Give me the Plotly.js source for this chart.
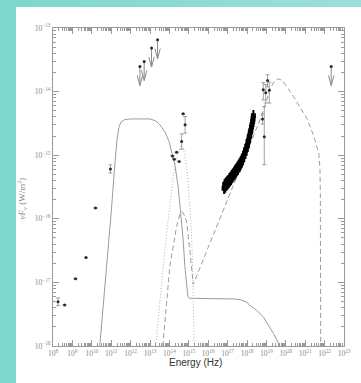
<!DOCTYPE html>
<html><head><meta charset="utf-8">
<script src="https://cdn.plot.ly/plotly-3.0.1.min.js"></script>
<style>
html,body{margin:0;padding:0;width:361px;height:383px;overflow:hidden;background:linear-gradient(to right,#7cd7cd,#9ddfd8);}
#panel{position:absolute;left:16px;top:7px;width:345px;height:376px;background:#fff;}
#chart{position:absolute;left:0;top:0;width:361px;height:383px;}
</style></head><body><div id="panel"></div><div id="chart"></div>
<script>
// ---- data (log10 of frequency in Hz, log10 of nuF_nu in W/m^2) ----
const radioLogNu = [8.26, 8.60, 9.16, 9.70, 10.19, 10.96];
const radioLogF  = [-17.305, -17.355, -16.943, -16.61, -15.83, -15.216];
const radioErr   = [0.06, 0, 0, 0, 0, 0.066];

const ulLogNu = [12.48, 12.70, 13.08, 13.39, 22.34];
const ulLogF  = [-13.605, -13.526, -13.315, -13.184, -13.605];

const optLogNu = [14.16, 14.25, 14.37, 14.50, 14.63, 14.71, 14.81];
const optLogF  = [-15.011, -15.063, -14.953, -15.10, -14.786, -14.35, -14.52];
const optErrHi = [0, 0, 0, 0, 0.121, 0, 0.128];
const optErrLo = [0, 0, 0, 0, 0.120, 0, 0.134];

const xrayLogNu = [16.82,16.85,16.88,16.91,16.94,16.97,17.00,17.03,17.06,17.09,17.12,17.15,17.18,17.21,17.24,17.27,17.30,17.33,17.36,17.39,17.42,17.45,17.48,17.51,17.54,17.57,17.60,17.63,17.66,17.69,17.72,17.75,17.78,17.81,17.84,17.87,17.90,17.93,17.96,17.99,18.02,18.05,18.08,18.11,18.14,18.17,18.20,18.23,18.26,18.29,18.31,18.33];
const xrayLogF  = [-15.52,-15.46,-15.50,-15.44,-15.47,-15.42,-15.45,-15.40,-15.43,-15.37,-15.40,-15.35,-15.38,-15.32,-15.35,-15.30,-15.32,-15.27,-15.30,-15.24,-15.27,-15.22,-15.24,-15.19,-15.22,-15.16,-15.18,-15.13,-15.15,-15.10,-15.11,-15.06,-15.07,-15.02,-15.02,-14.97,-14.97,-14.92,-14.91,-14.86,-14.85,-14.79,-14.77,-14.72,-14.69,-14.64,-14.61,-14.56,-14.52,-14.47,-14.43,-14.38];
const xrayErr = 0.09;

const gamLogNu = [18.80, 18.84, 18.89, 18.965, 19.06, 19.15];
const gamLogF  = [-14.43, -13.97, -14.71, -14.02, -13.825, -13.98];
const gamErrHi = [0.08, 0.11, 0.475, 0.13, 0.09, 0.13];
const gamErrLo = [0.08, 0.16, 0.44, 0.16, 0.10, 0.20];

// model curves
const syncLogNu = [10.41,10.7,11.0,11.2,11.3,11.4,11.5,11.7,12.0,12.5,13.0,13.3,13.5,13.77,14.0,14.13,14.28,14.45,14.58,14.7,14.8,14.89,14.95,15.02,15.5,16.0,16.5,17.0,17.3,17.64,17.98,18.15,18.5,18.84,19.1,19.36,19.55,19.67];
const syncLogF  = [-18,-17.0,-15.9,-15.1,-14.75,-14.56,-14.48,-14.44,-14.43,-14.43,-14.43,-14.46,-14.52,-14.63,-14.80,-14.97,-15.15,-15.49,-15.86,-16.3,-16.75,-17.12,-17.22,-17.25,-17.25,-17.25,-17.25,-17.25,-17.26,-17.27,-17.31,-17.36,-17.44,-17.54,-17.66,-17.80,-17.91,-18.0];

const diskLogNu = [13.30,13.5,13.68,13.85,14.02,14.2,14.35,14.45,14.55,14.63,14.72,14.8,14.89,14.97,15.05,15.14,15.2,15.25,15.28];
const diskLogF  = [-18,-17.3,-16.75,-16.25,-15.81,-15.34,-15.08,-14.97,-14.88,-14.84,-14.88,-15.0,-15.18,-15.45,-15.8,-16.22,-16.8,-17.4,-18];

const icLogNu = [13.66,14.02,14.37,14.55,14.63,14.72,14.80,14.89,15.06,15.23,16.0,17.0,18.0,18.7,19.0,19.2,19.4,19.6,19.8,20.05,20.4,20.74,21.08,21.42,21.6,21.7,21.76,21.78,21.8];
const icLogF  = [-18,-16.75,-16.12,-15.92,-15.89,-15.91,-15.97,-16.05,-16.52,-17.03,-16.45,-15.70,-14.95,-14.42,-14.15,-13.95,-13.84,-13.80,-13.82,-13.92,-14.08,-14.25,-14.42,-14.68,-14.85,-14.97,-15.2,-15.6,-18];

const xTickExp = [8,9,10,11,12,13,14,15,16,17,18,19,20,21,22,23];
const yTickExp = [-18,-17,-16,-15,-14,-13];

// ---- helpers ----
const P = v => Math.pow(10, v);
const lin = a => a.map(P);
const errPlus = (y, e) => y.map((v, i) => P(v + (Array.isArray(e) ? e[i] : e)) - P(v));
const errMinus = (y, e) => y.map((v, i) => P(v) - P(v - (Array.isArray(e) ? e[i] : e)));

const lineCol = '#9c9c9c';
const ptCol = '#2a2a2a';
const ebCol = '#8a8a8a';

function eb(y, hi, lo, w) {
  return {type: 'data', symmetric: false, array: errPlus(y, hi), arrayminus: errMinus(y, lo),
          color: ebCol, thickness: 0.8, width: w};
}

const traces = [];
traces.push({x: lin(syncLogNu), y: lin(syncLogF), mode: 'lines', line: {color: lineCol, width: 1}, hoverinfo: 'skip'});
traces.push({x: lin(diskLogNu), y: lin(diskLogF), mode: 'lines', line: {color: '#b4b4b4', width: 1, dash: '1px,2px'}, hoverinfo: 'skip'});
traces.push({x: lin(icLogNu), y: lin(icLogF), mode: 'lines', line: {color: lineCol, width: 1, dash: '5px,3px'}, hoverinfo: 'skip'});

traces.push({x: lin(radioLogNu), y: lin(radioLogF), mode: 'markers',
  marker: {size: 3, color: ptCol}, error_y: eb(radioLogF, radioErr, radioErr, 2)});
traces.push({x: lin(optLogNu), y: lin(optLogF), mode: 'markers',
  marker: {size: 3, color: ptCol}, error_y: eb(optLogF, optErrHi, optErrLo, 2)});
traces.push({x: lin(xrayLogNu), y: lin(xrayLogF), mode: 'markers',
  marker: {size: 5, color: '#000', symbol: 'square'},
  error_y: {type: 'data', symmetric: false, array: errPlus(xrayLogF, xrayErr), arrayminus: errMinus(xrayLogF, xrayErr), color: '#000', thickness: 2, width: 0}});
traces.push({x: lin(gamLogNu), y: lin(gamLogF), mode: 'markers',
  marker: {size: 3, color: ptCol}, error_y: eb(gamLogF, gamErrHi, gamErrLo, 2)});

// upper limits: dot + shaft + V head
const shaft = 0.30, headDy = 0.16, headDx = 0.14;
const ulx = [], uly = [];
ulLogNu.forEach((lx, i) => {
  const ly = ulLogF[i], tip = ly - shaft;
  ulx.push(P(lx), P(lx), null, P(lx - headDx), P(lx), P(lx + headDx), null);
  uly.push(P(ly), P(tip), null, P(tip + headDy), P(tip), P(tip + headDy), null);
});
traces.push({x: ulx, y: uly, mode: 'lines', line: {color: '#8a8a8a', width: 1}, hoverinfo: 'skip'});
traces.push({x: lin(ulLogNu), y: lin(ulLogF), mode: 'markers', marker: {size: 3, color: ptCol}});

const minorX = [], minorY = [];
for (let n = 8; n < 23; n++) for (let k = 2; k <= 9; k++) minorX.push(k * P(n));
for (let n = -18; n < -13; n++) for (let k = 2; k <= 9; k++) minorY.push(k * P(n));

const tickFont = {family: 'Liberation Serif, DejaVu Serif, serif', size: 7.5, color: '#8a8a8a'};
const axisCommon = {type: 'log', showgrid: false, zeroline: false, showline: true, linecolor: '#9a9a9a', linewidth: 1,
  mirror: 'allticks', ticks: 'inside', ticklen: 6, tickcolor: '#9a9a9a', tickwidth: 1, tickfont: tickFont, tickmode: 'array'};

const layout = {
  width: 361, height: 383,
  margin: {l: 53, r: 17, t: 28, b: 37},
  paper_bgcolor: 'rgba(0,0,0,0)', plot_bgcolor: '#fff',
  showlegend: false,
  xaxis: Object.assign({}, axisCommon, {
    range: [8, 23], ticklabelstandoff: 0,
    tickvals: xTickExp.map(P), ticktext: xTickExp.map(e => '10<sup>' + e + '</sup>'),
    minor: {tickmode: 'array', tickvals: minorX, ticks: 'inside', ticklen: 3, tickcolor: '#9a9a9a', showgrid: false}
  }),
  yaxis: Object.assign({}, axisCommon, {
    range: [-18, -13],
    tickvals: yTickExp.map(P), ticktext: yTickExp.map(e => '10<sup>\u2212' + (-e) + '</sup>'),
    minor: {tickmode: 'array', tickvals: minorY, ticks: 'inside', ticklen: 3, tickcolor: '#9a9a9a', showgrid: false}
  }),
  annotations: [
    {xref: 'paper', yref: 'paper', x: -0.109, y: 0.465, text: '<i>\u03bdF<sub>\u03bd</sub></i> (W/m<sup>2</sup>)',
     textangle: -90, showarrow: false, xanchor: 'center', yanchor: 'middle',
     font: {family: 'Liberation Serif, DejaVu Serif, serif', size: 9, color: '#8a8a8a'}},
    {xref: 'paper', yref: 'paper', x: 0.488, y: -0.053, text: 'Energy (Hz)', showarrow: false,
     xanchor: 'center', yanchor: 'middle',
     font: {family: 'Liberation Sans, Arial, sans-serif', size: 10, color: '#333'}}
  ]
};

Plotly.newPlot('chart', traces, layout, {staticPlot: true, displayModeBar: false});
</script></body></html>
